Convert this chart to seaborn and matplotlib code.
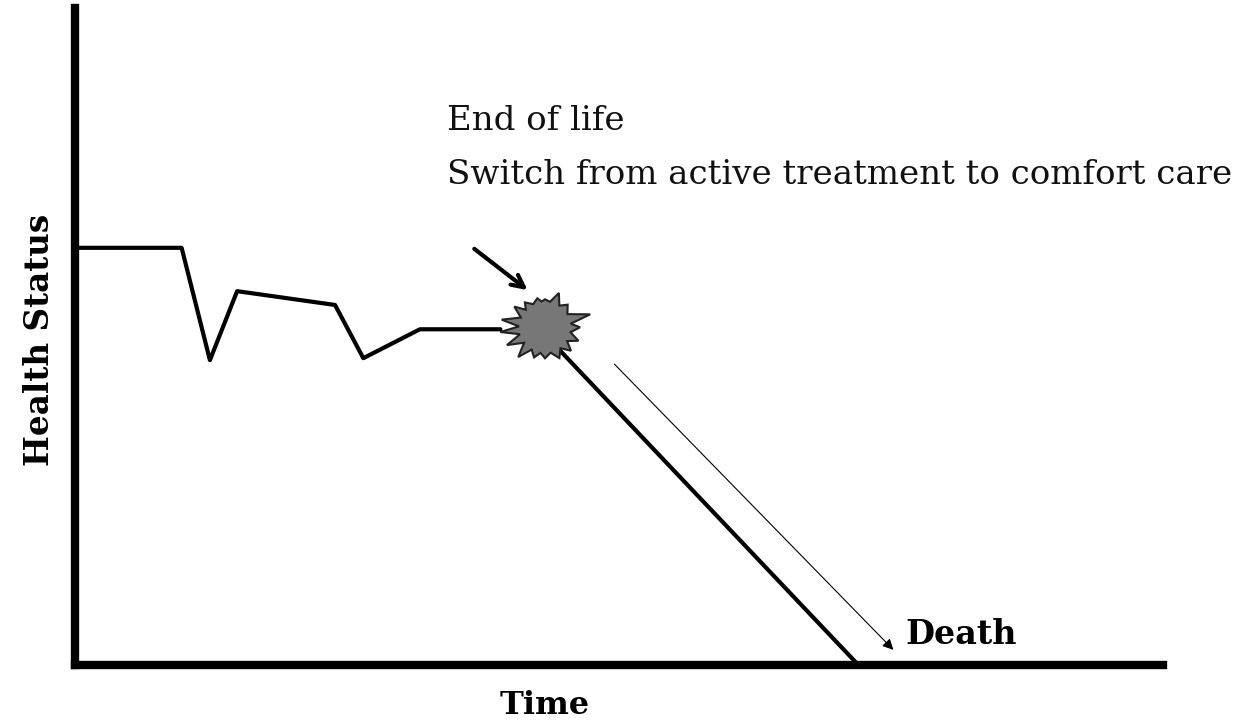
import numpy as np
import pandas as pd
import matplotlib
matplotlib.use("Agg")
import matplotlib.pyplot as plt
import seaborn as sns

# ---- data (time 0..100, health 0..100) ----
time_vals = [0.0, 9.8, 12.4, 14.9, 23.9, 26.5, 31.7, 39.1]
health_vals = [63.5, 63.5, 46.4, 56.9, 54.8, 46.7, 51.1, 51.1]
decline_time = [44.1, 72.0]
decline_health = [48.7, 0.0]
event_time, event_health = 43.2, 51.4
# burst spikes: angle (deg) and length (px) of each point
star_angle_deg = [0, 16, 45, 68, 90, 105, 129, 146, 170, 186, 205, 228, 250, 270, 295, 318, 338]
star_outer_px = [35, 47, 32, 37, 28, 30, 32, 37, 44, 45, 42, 40, 32, 31, 34, 35, 36]
star_inner_px = 26
thin_arrow = [(49.4, 46.1), (75.4, 2.0)]
thick_arrow = [(36.5, 63.6), (41.8, 56.8)]
label_event = "End of life\nSwitch from active treatment to comfort care"
label_death = "Death"
x_label = "Time"
y_label = "Health Status"

sns.set_theme(style="white")
plt.rcParams["font.family"] = ["DejaVu Serif"]

W, H = 1255, 727
fig = plt.figure(figsize=(W / 100, H / 100), dpi=100)
ax_l, ax_b, ax_r, ax_t = 75, 665, 1163, 8
ax = fig.add_axes([ax_l / W, (H - ax_b) / H, (ax_r - ax_l) / W, (ax_b - ax_t) / H])
ax.set_xlim(0, 100)
ax.set_ylim(0, 100)
pxx = (ax_r - ax_l) / 100.0
pxy = (ax_b - ax_t) / 100.0

df = pd.DataFrame({"time": time_vals, "health": health_vals})
sns.lineplot(data=df, x="time", y="health", sort=False, color="black", lw=3, ax=ax)
dd = pd.DataFrame({"time": decline_time, "health": decline_health})
sns.lineplot(data=dd, x="time", y="health", sort=False, color="black", lw=3, ax=ax)

# burst
a_out = np.deg2rad(np.array(star_angle_deg, dtype=float))
a_next = np.roll(a_out, -1)
a_next[-1] += 2 * np.pi
a_in = (a_out + a_next) / 2
angs, rads = [], []
for ao, ro, ai in zip(a_out, star_outer_px, a_in):
    angs += [ao, ai]
    rads += [ro, star_inner_px]
angs = np.array(angs)
rads = np.array(rads, dtype=float)
sx = event_time + rads * np.cos(angs) / pxx
sy = event_health + rads * np.sin(angs) / pxy
ax.fill(sx, sy, facecolor="#777777", edgecolor="#222222", lw=1.5, zorder=5)

# arrows
ax.annotate("", xy=thin_arrow[1], xytext=thin_arrow[0],
            arrowprops=dict(arrowstyle="-|>", color="black", lw=0.8, mutation_scale=16))
ax.annotate("", xy=thick_arrow[1], xytext=thick_arrow[0],
            arrowprops=dict(arrowstyle="->", color="black", lw=3, mutation_scale=22))

# texts
ax.text((447 - ax_l) / pxx, (ax_b - 105) / pxy, label_event, fontsize=24.5,
        va="top", ha="left", linespacing=1.9, color="#111111")
ax.text((905 - ax_l) / pxx, (ax_b - 634) / pxy, label_death, fontsize=24,
        fontweight="bold", va="center", ha="left", color="black")
ax.set_xlabel(x_label, fontsize=23, fontweight="bold", color="black")
ax.set_ylabel(y_label, fontsize=23.5, fontweight="bold", color="black")
ax.xaxis.set_label_coords((545 - ax_l) / (ax_r - ax_l), -(705 - ax_b) / (ax_b - ax_t), transform=ax.transAxes)
ax.yaxis.set_label_coords(-(ax_l - 40) / (ax_r - ax_l), (ax_b - 340) / (ax_b - ax_t), transform=ax.transAxes)
ax.xaxis.label.set_va("center")
ax.yaxis.label.set_va("center")

ax.set_xticks([])
ax.set_yticks([])
for s in ["top", "right"]:
    ax.spines[s].set_visible(False)
for s in ["left", "bottom"]:
    ax.spines[s].set_linewidth(6)
    ax.spines[s].set_color("black")

fig.savefig("out.png", dpi=100, facecolor="white")
